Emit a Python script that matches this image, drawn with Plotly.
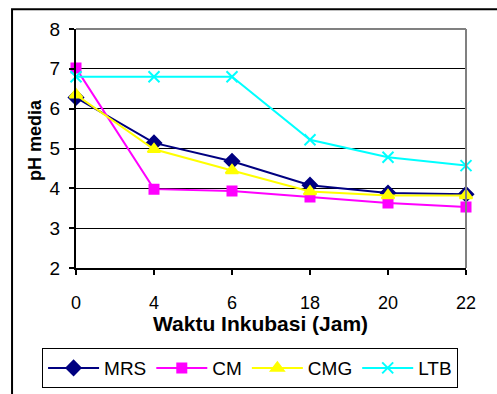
import plotly.graph_objects as go

# Incubation time (hours) and medium pH per culture medium
waktu = ["0", "4", "6", "18", "20", "22"]
ph_mrs = [6.28, 5.14, 4.68, 4.08, 3.88, 3.85]
ph_cm = [7.02, 3.98, 3.93, 3.78, 3.63, 3.53]
ph_cmg = [6.35, 4.98, 4.45, 3.92, 3.82, 3.82]
ph_ltb = [6.8, 6.8, 6.8, 5.22, 4.78, 4.57]

series = [
    ("MRS", ph_mrs, "#000080", "diamond", 11),
    ("CM", ph_cm, "#FF00FF", "square", 9),
    ("CMG", ph_cmg, "#FFFF00", "triangle-up", 11),
    ("LTB", ph_ltb, "#00FFFF", "x-thin", 11),
]

FONT = "Liberation Sans, Arial, sans-serif"

fig = go.Figure()
for name, vals, color, symbol, size in series:
    fig.add_trace(go.Scatter(
        x=waktu, y=vals, name=name, mode="lines+markers",
        line=dict(color=color, width=2),
        marker=dict(symbol=symbol, size=size, color=color,
                    line=dict(color=color, width=2)),
        cliponaxis=False,
    ))

fig.update_layout(
    width=497, height=394,
    margin=dict(l=76, r=31, t=29, b=126, autoexpand=False),
    paper_bgcolor="white", plot_bgcolor="white",
    font=dict(family=FONT, size=18, color="black"),
    showlegend=True,
    legend=dict(
        orientation="h", x=-0.087, y=-0.335, xanchor="left", yanchor="top",
        bordercolor="black", borderwidth=1, font=dict(size=19),
        itemwidth=51, tracegroupgap=0,
    ),
    xaxis=dict(
        type="category", range=[0, 5], showgrid=False,
        showline=True, linecolor="black", linewidth=2,
        ticks="outside", ticklen=5, tickcolor="black", tickwidth=2,
        ticklabelstandoff=12, tickfont=dict(size=18),
        zeroline=False,
    ),
    yaxis=dict(
        range=[2, 8], dtick=1, showgrid=True, gridcolor="black", gridwidth=1,
        showline=True, linecolor="black", linewidth=2,
        ticks="outside", ticklen=5, tickcolor="black", tickwidth=2,
        ticklabelstandoff=5, tickfont=dict(size=19), zeroline=False,
    ),
    annotations=[
        dict(text="<b>pH media</b>", xref="paper", yref="paper",
             x=-0.105, y=0.536, textangle=-90, showarrow=False,
             xanchor="center", yanchor="middle", font=dict(size=18)),
        dict(text="<b>Waktu Inkubasi (Jam)</b>", xref="paper", yref="paper",
             x=0.474, y=-0.232, showarrow=False,
             xanchor="center", yanchor="middle", font=dict(size=21)),
    ],
    shapes=[
        # grey top and right edges of the plot area
        dict(type="line", xref="paper", yref="paper", x0=0, x1=1, y0=1, y1=1,
             line=dict(color="#808080", width=2), layer="above"),
        dict(type="line", xref="paper", yref="paper", x0=1, x1=1, y0=0, y1=1,
             line=dict(color="#808080", width=2), layer="above"),
        # chart area frame
        dict(type="rect", xref="paper", yref="paper", x0=-0.164, x1=1.3,
             y0=-0.7, y1=1.083, line=dict(color="black", width=2),
             layer="below"),
    ],
)

fig.write_html("out.html")
